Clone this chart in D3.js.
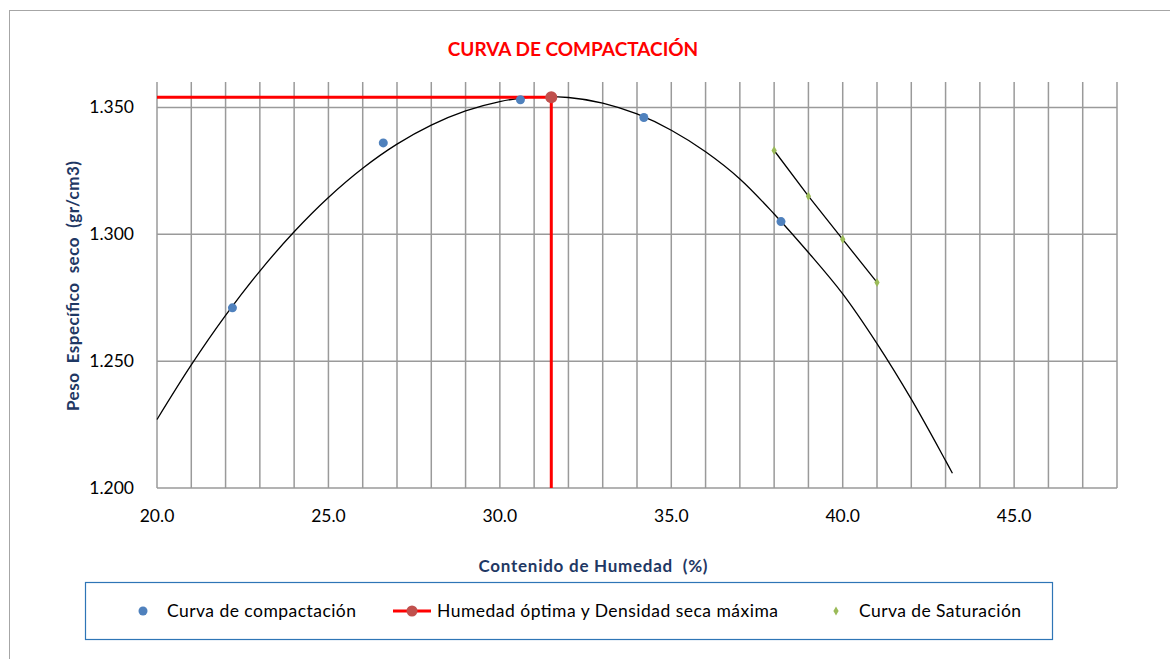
<!DOCTYPE html>
<html>
<head>
<meta charset="utf-8">
<script src="https://cdn.jsdelivr.net/npm/d3@7"></script>
<style>
  body { margin: 0; background: #fff; }
  svg { display: block; }
</style>
</head>
<body>
<div id="chart"></div>
<script>
// compaction test points (humedad %, peso especifico seco gr/cm3)
const humedad = [22.2, 26.6, 30.6, 34.2, 38.2];
const densidad = [1.271, 1.336, 1.353, 1.346, 1.305];

// fitted compaction curve
const curvaHumedad = [20, 21, 22, 23, 24, 25, 26, 27, 28, 29, 30, 31, 32,
    33, 34, 35, 36, 37, 38, 39, 40, 41, 42, 43, 43.2];
const curvaDensidad = [1.2270, 1.2485, 1.2680, 1.2855, 1.3010, 1.3145, 1.3260,
    1.3355, 1.3430, 1.3486, 1.3523, 1.3541, 1.3539, 1.3517, 1.3474, 1.3410,
    1.3325, 1.3218, 1.3080, 1.2928, 1.2765, 1.2569, 1.2350, 1.2108, 1.2058];

// optimum point
const humedadOptima = 31.5;
const densidadMaxima = 1.354;

// saturation curve
const satHumedad = [38.0, 39.0, 40.0, 41.0];
const satDensidad = [1.333, 1.315, 1.298, 1.281];

const xTicks = [20, 25, 30, 35, 40, 45];
const yTicks = [1.2, 1.25, 1.3, 1.35];

const W = 1170, H = 659;
const margin = {left: 157, right: 53, top: 82, bottom: 171};

const svg = d3.select('#chart').append('svg')
    .attr('width', W)
    .attr('height', H);

// outer frame
svg.append('rect')
    .attr('x', 9.5).attr('y', 10.5)
    .attr('width', 1170).attr('height', 700)
    .attr('fill', 'none')
    .attr('stroke', '#a6a6a6');

const x = d3.scaleLinear().domain([20, 48]).range([margin.left, W - margin.right]);
const y = d3.scaleLinear().domain([1.2, 1.36]).range([H - margin.bottom, margin.top]);

// grid
const grid = svg.append('g').attr('stroke', '#9a9a9a').attr('stroke-width', 1.5);
grid.selectAll('line.v')
    .data(d3.range(20, 49, 1))
    .enter().append('line')
    .attr('x1', d => x(d)).attr('x2', d => x(d))
    .attr('y1', y(1.36)).attr('y2', y(1.2));
grid.selectAll('line.h')
    .data(yTicks)
    .enter().append('line')
    .attr('x1', x(20)).attr('x2', x(48))
    .attr('y1', d => y(d)).attr('y2', d => y(d));

const font = 'Lato, "Open Sans", sans-serif';

// tick labels
svg.append('g').selectAll('text')
    .data(yTicks)
    .enter().append('text')
    .attr('x', 134)
    .attr('y', d => y(d) + 6)
    .attr('text-anchor', 'end')
    .attr('font-family', font)
    .attr('font-size', 17.5)
    .attr('fill', '#000')
    .text(d => d3.format('.3f')(d));

svg.append('g').selectAll('text')
    .data(xTicks)
    .enter().append('text')
    .attr('x', d => x(d))
    .attr('y', 522)
    .attr('text-anchor', 'middle')
    .attr('font-family', font)
    .attr('font-size', 17.5)
    .attr('fill', '#000')
    .text(d => d3.format('.1f')(d));

const line = d3.line().x(d => x(d[0])).y(d => y(d[1]));
const smooth = d3.line().x(d => x(d[0])).y(d => y(d[1])).curve(d3.curveCatmullRom);

// compaction curve
svg.append('path')
    .datum(curvaHumedad.map((h, i) => [h, curvaDensidad[i]]))
    .attr('d', smooth)
    .attr('fill', 'none')
    .attr('stroke', '#000')
    .attr('stroke-width', 1.3);

// saturation line
const satData = satHumedad.map((h, i) => [h, satDensidad[i]]);
svg.append('path')
    .datum(satData)
    .attr('d', line)
    .attr('fill', 'none')
    .attr('stroke', '#000')
    .attr('stroke-width', 1.3);

svg.append('g').selectAll('path')
    .data(satData)
    .enter().append('path')
    .attr('transform', d => `translate(${x(d[0])},${y(d[1])})`)
    .attr('d', d3.symbol(d3.symbolDiamond, 24))
    .attr('fill', '#9bbb59');

// optimum lines
const optLine = [[20, densidadMaxima], [humedadOptima, densidadMaxima], [humedadOptima, 1.2]];
svg.append('path')
    .datum(optLine)
    .attr('d', line)
    .attr('fill', 'none')
    .attr('stroke', '#ff0000')
    .attr('stroke-width', 3);

// compaction points
svg.append('g').selectAll('circle')
    .data(humedad.map((h, i) => [h, densidad[i]]))
    .enter().append('circle')
    .attr('cx', d => x(d[0]))
    .attr('cy', d => y(d[1]))
    .attr('r', 4.5)
    .attr('fill', '#4f81bd');

svg.append('circle')
    .attr('cx', x(humedadOptima))
    .attr('cy', y(densidadMaxima))
    .attr('r', 6)
    .attr('fill', '#c0504d');

// titles
svg.append('text')
    .attr('x', 573).attr('y', 56)
    .attr('text-anchor', 'middle')
    .attr('font-family', font)
    .attr('font-weight', 'bold')
    .attr('font-size', 19)
    .attr('fill', '#ff0000')
    .text('CURVA DE COMPACTACIÓN');

svg.append('text')
    .attr('transform', 'translate(79,286) rotate(-90)')
    .attr('text-anchor', 'middle')
    .attr('font-family', font)
    .attr('font-weight', 'bold')
    .attr('font-size', 17)
    .attr('fill', '#1f3864')
    .style('white-space', 'pre')
    .attr('textLength', 250)
    .attr('lengthAdjust', 'spacing')
    .text('Peso  Específico  seco  (gr/cm3)');

svg.append('text')
    .attr('x', 593).attr('y', 572)
    .attr('text-anchor', 'middle')
    .attr('font-family', font)
    .attr('font-weight', 'bold')
    .attr('font-size', 17)
    .attr('fill', '#1f3864')
    .style('white-space', 'pre')
    .attr('textLength', 229)
    .attr('lengthAdjust', 'spacing')
    .text('Contenido de Humedad  (%)');

// legend
const legend = svg.append('g');
legend.append('rect')
    .attr('x', 85.5).attr('y', 582.5)
    .attr('width', 967).attr('height', 57)
    .attr('fill', '#fff')
    .attr('stroke', '#2e75b6')
    .attr('stroke-width', 1.2);

const ly = 611;
legend.append('circle').attr('cx', 143).attr('cy', ly).attr('r', 4.5).attr('fill', '#4f81bd');
legend.append('line')
    .attr('x1', 393).attr('x2', 431).attr('y1', ly).attr('y2', ly)
    .attr('stroke', '#ff0000').attr('stroke-width', 3);
legend.append('circle').attr('cx', 412).attr('cy', ly).attr('r', 5.5).attr('fill', '#c0504d');
legend.append('path')
    .attr('transform', `translate(836,${ly})`)
    .attr('d', d3.symbol(d3.symbolDiamond, 24))
    .attr('fill', '#9bbb59');

const legendItems = [
    {text: 'Curva de compactación', x: 167, w: 189},
    {text: 'Humedad óptima y Densidad seca máxima', x: 437, w: 341},
    {text: 'Curva de Saturación', x: 859, w: 162}
];
legend.selectAll('text.item')
    .data(legendItems)
    .enter().append('text')
    .attr('x', d => d.x)
    .attr('y', ly + 6)
    .attr('font-family', font)
    .attr('font-size', 17.5)
    .attr('fill', '#000')
    .attr('textLength', d => d.w)
    .attr('lengthAdjust', 'spacing')
    .text(d => d.text);
</script>
</body>
</html>
